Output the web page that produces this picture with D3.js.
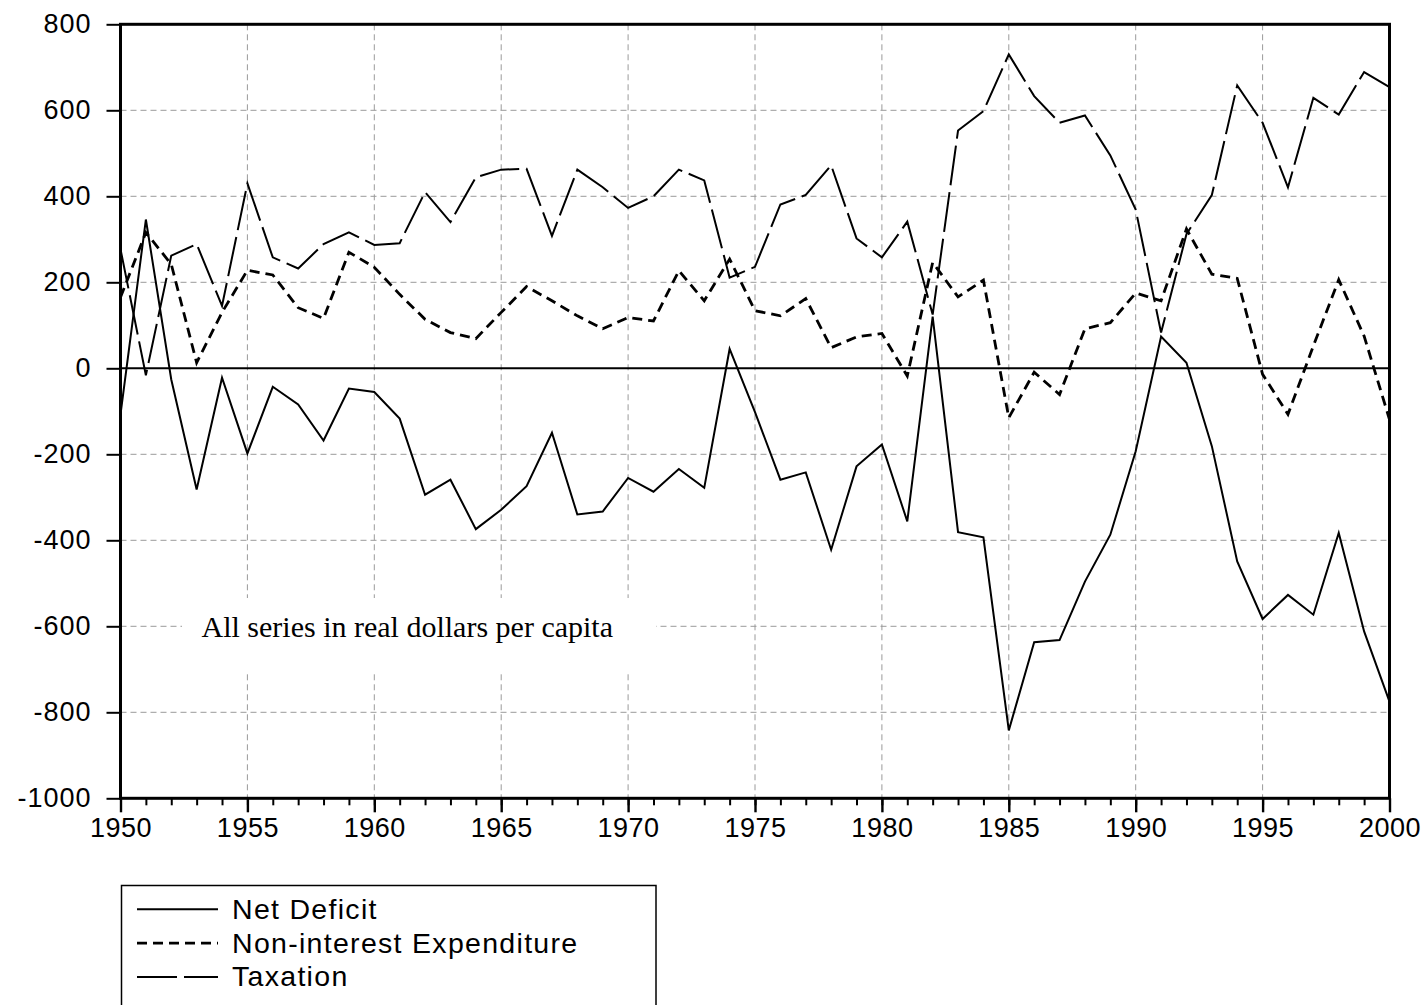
<!DOCTYPE html>
<html>
<head>
<meta charset="utf-8">
<script src="https://cdn.jsdelivr.net/npm/d3@7"></script>
<style>
  body { margin: 0; background: #fff; }
  svg { display: block; }
</style>
</head>
<body>
<div id="chart"></div>
<script>
// data (real dollars per capita)
const years = d3.range(1950, 2001);

const netDeficit = [-107, 346, -26, -282, -22, -198, -43, -84, -168, -47,
  -55, -117, -294, -259, -374, -329, -274, -150, -340, -333,
  -255, -287, -234, -278, 45, -102, -259, -242, -422, -228,
  -177, -356, 120, -381, -393, -842, -637, -632, -496, -387,
  -193, 74, 13, -181, -449, -583, -527, -573, -383, -612,
  -775];

const nonInterest = [165, 316, 242, 13, 130, 228, 217, 141, 116, 270,
  235, 172, 114, 83, 69, 130, 190, 157, 122, 92,
  118, 110, 227, 157, 254, 134, 122, 162, 48, 73,
  81, -18, 246, 166, 205, -115, -9, -61, 92, 106,
  175, 157, 324, 219, 209, -14, -107, 52, 206, 75,
  -119];

const taxation = [277, -16, 262, 289, 145, 430, 258, 232, 289, 316,
  287, 291, 410, 340, 444, 462, 464, 308, 462, 421,
  373, 400, 462, 437, 211, 236, 381, 403, 472, 302,
  258, 341, 125, 553, 598, 730, 633, 571, 588, 495,
  369, 83, 312, 403, 658, 571, 421, 629, 590, 689,
  654];

const yTicks = [800, 600, 400, 200, 0, -200, -400, -600, -800, -1000];
const xTicks = [1950, 1955, 1960, 1965, 1970, 1975, 1980, 1985, 1990, 1995, 2000];

const seriesNames = ["Net Deficit", "Non-interest Expenditure", "Taxation"];
const annotation = "All series in real dollars per capita";

const dimensions = {
  width: 1427,
  height: 1005,
  marginTop: 24.3,
  marginLeft: 120.5,
  marginRight: 1427 - 1389.5,
  marginBottom: 1005 - 798.3,
};
dimensions.boundedWidth = dimensions.width - dimensions.marginLeft - dimensions.marginRight;
dimensions.boundedHeight = dimensions.height - dimensions.marginTop - dimensions.marginBottom;

const wrapper = d3.select("#chart")
  .append("svg")
    .attr("width", dimensions.width)
    .attr("height", dimensions.height);

const bounds = wrapper.append("g")
  .attr("transform", `translate(${dimensions.marginLeft}, ${dimensions.marginTop})`);

// scales
const xScale = d3.scaleLinear()
  .domain([1950, 2000])
  .range([0, dimensions.boundedWidth]);
const yScale = d3.scaleLinear()
  .domain([-1000, 800])
  .range([dimensions.boundedHeight, 0]);

// grid
bounds.append("g")
  .selectAll("line")
  .data(yTicks.filter(d => d !== 0 && d !== 800 && d !== -1000))
  .join("line")
    .attr("x1", 0)
    .attr("x2", dimensions.boundedWidth)
    .attr("y1", d => yScale(d))
    .attr("y2", d => yScale(d))
    .attr("stroke", "#9a9a9a")
    .attr("stroke-width", 1)
    .attr("stroke-dasharray", "6,4");

bounds.append("g")
  .selectAll("line")
  .data(xTicks.filter(d => d !== 1950 && d !== 2000))
  .join("line")
    .attr("x1", d => xScale(d))
    .attr("x2", d => xScale(d))
    .attr("y1", 0)
    .attr("y2", dimensions.boundedHeight)
    .attr("stroke", "#9a9a9a")
    .attr("stroke-width", 1)
    .attr("stroke-dasharray", "6,4");

// annotation box blanks out the grid behind it
bounds.append("rect")
  .attr("x", 182 - dimensions.marginLeft)
  .attr("y", 598 - dimensions.marginTop)
  .attr("width", 474)
  .attr("height", 74)
  .attr("fill", "#fff");

bounds.append("text")
  .attr("x", 201.5 - dimensions.marginLeft)
  .attr("y", 637.3 - dimensions.marginTop)
  .attr("font-family", "'Liberation Serif', 'Times New Roman', serif")
  .attr("font-size", 30)
  .attr("fill", "#000")
  .text(annotation);

// zero line
bounds.append("line")
  .attr("x1", 0)
  .attr("x2", dimensions.boundedWidth)
  .attr("y1", yScale(0))
  .attr("y2", yScale(0))
  .attr("stroke", "#000")
  .attr("stroke-width", 2);

// lines
const styles = [
  { values: netDeficit, dash: null, width: 2 },
  { values: nonInterest, dash: "10,6", width: 2.8 },
  { values: taxation, dash: "40,7", width: 2 },
];

const lineGenerator = d3.line()
  .x((d, i) => xScale(years[i]))
  .y(d => yScale(d));

styles.forEach(s => {
  bounds.append("path")
    .attr("d", lineGenerator(s.values))
    .attr("fill", "none")
    .attr("stroke", "#000")
    .attr("stroke-width", s.width)
    .attr("stroke-dasharray", s.dash)
    .attr("stroke-linejoin", "miter");
});

// axes
const tickFont = "'Liberation Sans', Arial, sans-serif";
const plainNumber = d => String(d); // hyphen-minus like the reference

const yAxis = bounds.append("g")
  .call(d3.axisLeft(yScale).tickValues(yTicks).tickSize(14).tickPadding(15).tickFormat(plainNumber));
yAxis.select(".domain").remove();
yAxis.selectAll("line").attr("stroke-width", 2);
yAxis.selectAll("text")
  .attr("font-family", tickFont)
  .attr("font-size", 27)
  .attr("letter-spacing", 1)
  .attr("fill", "#000");

const xMinor = bounds.append("g")
  .attr("transform", `translate(0, ${dimensions.boundedHeight})`)
  .call(d3.axisBottom(xScale).tickValues(years).tickSize(7).tickFormat(""));
xMinor.select(".domain").remove();
xMinor.selectAll("line").attr("stroke-width", 2);

const xAxis = bounds.append("g")
  .attr("transform", `translate(0, ${dimensions.boundedHeight})`)
  .call(d3.axisBottom(xScale).tickValues(xTicks).tickSize(14).tickPadding(6).tickFormat(plainNumber));
xAxis.select(".domain").remove();
xAxis.selectAll("line").attr("stroke-width", 2.4);
xAxis.selectAll("text")
  .attr("font-family", tickFont)
  .attr("font-size", 27)
  .attr("letter-spacing", 0.5)
  .attr("fill", "#000");

// frame
bounds.append("rect")
  .attr("x", 0)
  .attr("y", 0)
  .attr("width", dimensions.boundedWidth)
  .attr("height", dimensions.boundedHeight)
  .attr("fill", "none")
  .attr("stroke", "#000")
  .attr("stroke-width", 3);

// legend
const legend = wrapper.append("g");
legend.append("rect")
  .attr("x", 121.5)
  .attr("y", 885.5)
  .attr("width", 534.5)
  .attr("height", 140)
  .attr("fill", "#fff")
  .attr("stroke", "#000")
  .attr("stroke-width", 1.5);

const legendRows = legend.selectAll("g.row")
  .data(seriesNames)
  .join("g")
    .attr("class", "row")
    .attr("transform", (d, i) => `translate(0, ${909.3 + i * 33.8})`);

legendRows.append("line")
  .attr("x1", 137)
  .attr("x2", 218)
  .attr("y1", 0)
  .attr("y2", 0)
  .attr("stroke", "#000")
  .attr("stroke-width", (d, i) => styles[i].width)
  .attr("stroke-dasharray", (d, i) => i === 2 ? "40,7" : styles[i].dash);

legendRows.append("text")
  .attr("x", 232)
  .attr("y", 9.5)
  .attr("font-family", tickFont)
  .attr("font-size", 28.5)
  .attr("letter-spacing", 1.3)
  .attr("fill", "#000")
  .text(d => d);
</script>
</body>
</html>
